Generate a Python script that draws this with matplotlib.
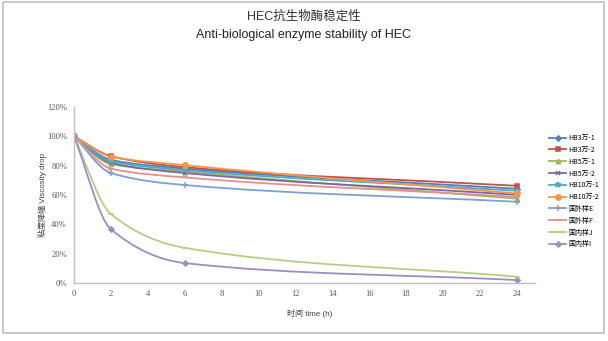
import numpy as np
import matplotlib
matplotlib.use('Agg')
import matplotlib.pyplot as plt
from matplotlib.path import Path
from matplotlib.patches import PathPatch, Rectangle
from matplotlib.lines import Line2D

plt.rcParams['font.family'] = ['Liberation Sans', 'Noto Sans CJK SC', 'DejaVu Sans']

hours = [0, 2, 6, 24]
labels = ['HB3万-1', 'HB3万-2', 'HB5万-1', 'HB5万-2', 'HB10万-1', 'HB10万-2',
          '国外样E', '国外样F', '国内样J', '国内样I']
hb3_1 = [1.00, 0.84, 0.78, 0.643]
hb3_2 = [1.00, 0.865, 0.79, 0.663]
hb5_1 = [1.00, 0.81, 0.76, 0.575]
hb5_2 = [1.00, 0.82, 0.75, 0.602]
hb10_1 = [1.00, 0.83, 0.77, 0.629]
hb10_2 = [1.00, 0.862, 0.804, 0.611]
foreign_e = [1.00, 0.75, 0.668, 0.554]
foreign_f = [1.00, 0.78, 0.72, 0.588]
domestic_j = [1.00, 0.47, 0.24, 0.043]
domestic_i = [1.00, 0.367, 0.136, 0.02]
series = [hb3_1, hb3_2, hb5_1, hb5_2, hb10_1, hb10_2,
          foreign_e, foreign_f, domestic_j, domestic_i]

colors = ['#4F81BD', '#C0504D', '#9BBB59', '#8064A2', '#4BACC6', '#F79646',
          '#7F9FD3', '#E0908E', '#B3CF84', '#9D8DC3']
markers = ['D', 's', '^', 'x', '*', 'o', '+', '_', '_', 'D']
msizes = [2.6, 3.2, 3.2, 3.2, 3.8, 3.8, 3.8, 3.8, 3.8, 2.6]


def pchip_slopes(x, y):
    x = np.asarray(x, float)
    y = np.asarray(y, float)
    h = np.diff(x)
    d = np.diff(y) / h
    m = np.zeros_like(y)
    m[0] = d[0]
    m[-1] = d[-1]
    for i in range(1, len(x) - 1):
        if d[i - 1] * d[i] <= 0:
            m[i] = 0
        else:
            w1 = 2 * h[i] + h[i - 1]
            w2 = h[i] + 2 * h[i - 1]
            m[i] = (w1 + w2) / (w1 / d[i - 1] + w2 / d[i])
    return m


def smooth_path(x, y):
    # cubic bezier through the data points (excel-like smoothed line)
    m = pchip_slopes(x, y)
    verts = [(x[0], y[0])]
    codes = [Path.MOVETO]
    for i in range(len(x) - 1):
        h = x[i + 1] - x[i]
        verts += [(x[i] + h / 3, y[i] + m[i] * h / 3),
                  (x[i + 1] - h / 3, y[i + 1] - m[i + 1] * h / 3),
                  (x[i + 1], y[i + 1])]
        codes += [Path.CURVE4] * 3
    return Path(verts, codes)


fig = plt.figure(figsize=(6.08, 3.41), dpi=100)
ax = fig.add_axes([74 / 608, 1 - 283 / 341, 461 / 608, 176 / 341])

handles = []
for vals, c, mk, ms, lab in zip(series, colors, markers, msizes, labels):
    ax.add_patch(PathPatch(smooth_path(hours, vals), fill=False, edgecolor=c, lw=1.3))
    ax.plot(hours, vals, ls='none', marker=mk, color=c, ms=ms, mew=1.1)
    handles.append(Line2D([], [], color=c, lw=1.3, marker=mk, ms=ms, mew=1.1, label=lab))

ax.set_xlim(0, 25)
ax.set_ylim(0, 1.2)
ax.set_xticks(range(0, 25, 2))
ax.set_yticks(np.arange(0, 1.21, 0.2))
ax.set_yticklabels([f'{int(round(v * 100))}%' for v in np.arange(0, 1.21, 0.2)])
for s in ['top', 'right']:
    ax.spines[s].set_visible(False)
for s in ['left', 'bottom']:
    ax.spines[s].set_color('#BFBFBF')
    ax.spines[s].set_linewidth(1.0)
ax.tick_params(length=0, labelsize=6.2, colors='#595959', pad=5)
for t in ax.get_xticklabels() + ax.get_yticklabels():
    t.set_family('Liberation Serif')

fig.text(0.5, 1 - 17 / 341, 'HEC抗生物酶稳定性', ha='center', va='center',
         fontsize=9, color='#333333')
fig.text(0.5, 1 - 35 / 341, 'Anti-biological enzyme stability of HEC', ha='center',
         va='center', fontsize=9, color='#222222')
fig.text(42 / 608, 1 - 195 / 341, '粘度降幅 Viscosity drop', rotation=90, ha='center',
         va='center', fontsize=5.8, color='#404040')
fig.text(310 / 608, 1 - 313 / 341, '时间 time (h)', ha='center', va='center',
         fontsize=5.8, color='#404040')

fig.legend(handles=handles, loc='upper left', bbox_to_anchor=(549 / 608, 1 - 134 / 341),
           frameon=False, handlelength=2.5, handletextpad=0.3,
           labelspacing=0.55, borderpad=0, borderaxespad=0,
           prop={'family': ['Noto Sans CJK SC', 'DejaVu Sans'], 'size': 5})

fig.patches.append(Rectangle((3 / 608, 1 - 333 / 341), 601 / 608, 331 / 341,
                             transform=fig.transFigure, fill=False,
                             edgecolor='#BFBFBF', lw=1.2))

fig.savefig('out.png', dpi=100)
